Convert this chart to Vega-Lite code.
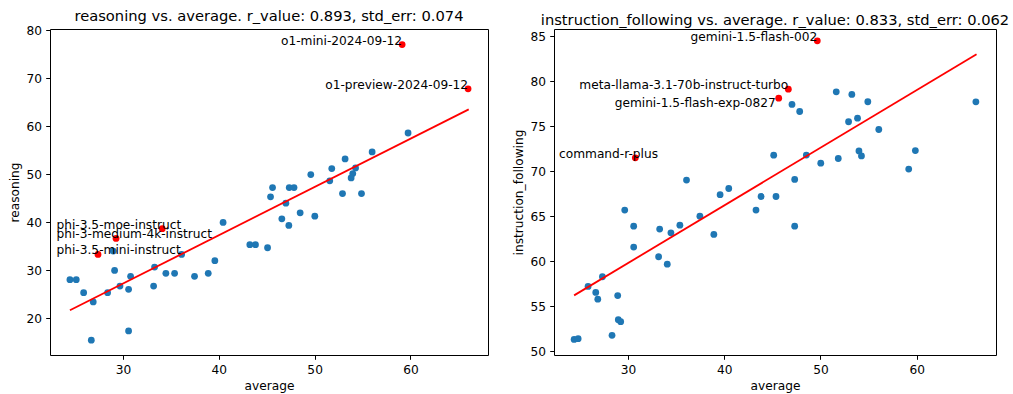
{
  "$schema": "https://vega.github.io/schema/vega-lite/v6.json",
  "padding": {"left": 8, "top": 8, "right": 0, "bottom": 0},
  "spacing": 23,
  "background": "white",
  "config": {
    "font": "DejaVu Sans",
    "view": {"stroke": "black", "strokeWidth": 1},
    "axis": {
      "grid": false, "domain": false, "tickColor": "black", "tickSize": 4.3, "tickWidth": 1,
      "labelFont": "DejaVu Sans", "labelFontSize": 12.2, "labelColor": "black", "labelPadding": 4.3,
      "titleFont": "DejaVu Sans", "titleFontSize": 12.2, "titleColor": "black", "titleFontWeight": "normal", "titlePadding": 4
    },
    "title": {"font": "DejaVu Sans", "fontSize": 14.7, "fontWeight": "normal", "color": "black", "offset": 1}
  },
  "datasets": {
    "reasoning": [
      {"average": 59.75, "score": 58.62}, {"average": 56.0, "score": 54.67}, {"average": 53.18, "score": 53.22},
      {"average": 51.79, "score": 51.2}, {"average": 54.27, "score": 51.34}, {"average": 53.98, "score": 50.16},
      {"average": 53.81, "score": 49.26}, {"average": 49.6, "score": 49.95}, {"average": 51.58, "score": 48.64},
      {"average": 45.61, "score": 47.25}, {"average": 47.35, "score": 47.25}, {"average": 47.85, "score": 47.25},
      {"average": 45.4, "score": 45.31}, {"average": 52.91, "score": 46.0}, {"average": 54.89, "score": 46.0},
      {"average": 47.0, "score": 43.98}, {"average": 48.49, "score": 41.98}, {"average": 50.02, "score": 41.28},
      {"average": 46.58, "score": 40.74}, {"average": 47.31, "score": 39.34}, {"average": 40.45, "score": 39.97},
      {"average": 43.24, "score": 35.33}, {"average": 43.83, "score": 35.33}, {"average": 45.09, "score": 34.7},
      {"average": 36.12, "score": 33.31}, {"average": 28.99, "score": 34.0}, {"average": 39.59, "score": 32.0},
      {"average": 33.3, "score": 30.67}, {"average": 29.13, "score": 29.98}, {"average": 34.48, "score": 29.36},
      {"average": 35.39, "score": 29.36}, {"average": 38.9, "score": 29.36}, {"average": 37.47, "score": 28.74},
      {"average": 30.8, "score": 28.74}, {"average": 24.47, "score": 28.05}, {"average": 25.13, "score": 28.05},
      {"average": 29.69, "score": 26.72}, {"average": 30.59, "score": 26.03}, {"average": 33.2, "score": 26.7},
      {"average": 25.9, "score": 25.34}, {"average": 28.4, "score": 25.34}, {"average": 26.9, "score": 23.4},
      {"average": 30.59, "score": 17.36}, {"average": 26.7, "score": 15.42}
    ],
    "reasoning_hi": [
      {"average": 59.13, "score": 77.05, "model": "o1-mini-2024-09-12"},
      {"average": 66.01, "score": 67.84, "model": "o1-preview-2024-09-12"},
      {"average": 34.1, "score": 38.68, "model": "phi-3.5-moe-instruct"},
      {"average": 29.28, "score": 36.65, "model": "phi-3-medium-4k-instruct"},
      {"average": 27.4, "score": 33.3, "model": "phi-3.5-mini-instruct"}
    ],
    "reasoning_fit": [
      {"average": 24.47, "score": 21.66}, {"average": 66.08, "score": 63.54}
    ],
    "instr": [
      {"average": 51.64, "score": 78.83}, {"average": 53.26, "score": 78.53}, {"average": 54.92, "score": 77.72},
      {"average": 66.15, "score": 77.71}, {"average": 47.04, "score": 77.42}, {"average": 47.84, "score": 76.64},
      {"average": 53.85, "score": 75.9}, {"average": 52.92, "score": 75.5}, {"average": 56.06, "score": 74.64},
      {"average": 54.0, "score": 72.26}, {"average": 54.26, "score": 71.7}, {"average": 59.86, "score": 72.3},
      {"average": 45.14, "score": 71.79}, {"average": 48.53, "score": 71.8}, {"average": 51.85, "score": 71.42},
      {"average": 50.03, "score": 70.9}, {"average": 59.17, "score": 70.25}, {"average": 36.08, "score": 69.02},
      {"average": 47.32, "score": 69.09}, {"average": 39.57, "score": 67.4}, {"average": 40.47, "score": 68.09},
      {"average": 43.83, "score": 67.2}, {"average": 45.38, "score": 67.2}, {"average": 43.3, "score": 65.69},
      {"average": 47.32, "score": 63.91}, {"average": 29.66, "score": 65.69}, {"average": 30.59, "score": 63.91},
      {"average": 30.59, "score": 61.58}, {"average": 37.47, "score": 65.02}, {"average": 35.39, "score": 64.02},
      {"average": 33.29, "score": 63.58}, {"average": 34.46, "score": 63.17}, {"average": 38.92, "score": 62.99},
      {"average": 33.18, "score": 60.51}, {"average": 34.08, "score": 59.69}, {"average": 27.34, "score": 58.29},
      {"average": 25.85, "score": 57.21}, {"average": 26.65, "score": 56.55}, {"average": 26.86, "score": 55.8},
      {"average": 28.93, "score": 56.2}, {"average": 28.99, "score": 53.52}, {"average": 29.24, "score": 53.3},
      {"average": 28.34, "score": 51.78}, {"average": 24.4, "score": 51.33}, {"average": 24.82, "score": 51.41}
    ],
    "instr_hi": [
      {"average": 49.67, "score": 84.49, "model": "gemini-1.5-flash-002"},
      {"average": 46.66, "score": 79.12, "model": "meta-llama-3.1-70b-instruct-turbo"},
      {"average": 45.66, "score": 78.12, "model": "gemini-1.5-flash-exp-0827"},
      {"average": 30.76, "score": 71.5, "model": "command-r-plus"}
    ],
    "instr_fit": [
      {"average": 24.4, "score": 56.22}, {"average": 66.22, "score": 83.0}
    ]
  },
  "hconcat": [
    {
      "width": 438, "height": 326,
      "title": "reasoning vs. average. r_value: 0.893, std_err: 0.074",
      "encoding": {
        "x": {"field": "average", "type": "quantitative", "title": "average",
              "scale": {"domain": [22.39, 68.09], "nice": false, "zero": false},
              "axis": {"values": [30, 40, 50, 60]}},
        "y": {"field": "score", "type": "quantitative", "title": "reasoning",
              "scale": {"domain": [12.34, 80.3], "nice": false, "zero": false},
              "axis": {"values": [20, 30, 40, 50, 60, 70, 80]}}
      },
      "layer": [
        {"data": {"name": "reasoning"}, "mark": {"type": "circle", "size": 46, "opacity": 1, "color": "#1f77b4"}},
        {"data": {"name": "reasoning_fit"}, "mark": {"type": "line", "color": "red", "strokeWidth": 1.8}},
        {"data": {"name": "reasoning_hi"}, "mark": {"type": "circle", "size": 46, "opacity": 1, "color": "red"}},
        {"data": {"name": "reasoning_hi"},
         "transform": [{"filter": {"field": "model", "oneOf": ["o1-mini-2024-09-12", "o1-preview-2024-09-12"]}}],
         "mark": {"type": "text", "align": "right", "baseline": "alphabetic", "fontSize": 12.2, "color": "black"},
         "encoding": {"text": {"field": "model"}}},
        {"data": {"name": "reasoning_hi"},
         "transform": [{"filter": {"field": "model", "oneOf": ["phi-3.5-moe-instruct", "phi-3-medium-4k-instruct", "phi-3.5-mini-instruct"]}}],
         "mark": {"type": "text", "align": "left", "baseline": "alphabetic", "fontSize": 12.2, "color": "black", "dx": 6.5},
         "encoding": {"x": {"datum": 22.39}, "text": {"field": "model"}}}
      ]
    },
    {
      "width": 442, "height": 326,
      "title": "instruction_following vs. average. r_value: 0.833, std_err: 0.062",
      "encoding": {
        "x": {"field": "average", "type": "quantitative", "title": "average",
              "scale": {"domain": [22.31, 68.24], "nice": false, "zero": false},
              "axis": {"values": [30, 40, 50, 60]}},
        "y": {"field": "score", "type": "quantitative", "title": "instruction_following",
              "scale": {"domain": [49.6, 85.8], "nice": false, "zero": false},
              "axis": {"values": [50, 55, 60, 65, 70, 75, 80, 85]}}
      },
      "layer": [
        {"data": {"name": "instr"}, "mark": {"type": "circle", "size": 46, "opacity": 1, "color": "#1f77b4"}},
        {"data": {"name": "instr_fit"}, "mark": {"type": "line", "color": "red", "strokeWidth": 1.8}},
        {"data": {"name": "instr_hi"}, "mark": {"type": "circle", "size": 46, "opacity": 1, "color": "red"}},
        {"data": {"name": "instr_hi"},
         "transform": [{"filter": {"field": "model", "oneOf": ["gemini-1.5-flash-002", "meta-llama-3.1-70b-instruct-turbo"]}}],
         "mark": {"type": "text", "align": "right", "baseline": "alphabetic", "fontSize": 12.2, "color": "black"},
         "encoding": {"text": {"field": "model"}}},
        {"data": {"name": "instr_hi"},
         "transform": [{"filter": {"field": "model", "equal": "gemini-1.5-flash-exp-0827"}}],
         "mark": {"type": "text", "align": "right", "baseline": "alphabetic", "fontSize": 12.2, "color": "black", "dx": -3, "dy": 9},
         "encoding": {"text": {"field": "model"}}},
        {"data": {"name": "instr_hi"},
         "transform": [{"filter": {"field": "model", "equal": "command-r-plus"}}],
         "mark": {"type": "text", "align": "left", "baseline": "alphabetic", "fontSize": 12.2, "color": "black", "dx": 5},
         "encoding": {"x": {"datum": 22.31}, "text": {"field": "model"}}}
      ]
    }
  ]
}
